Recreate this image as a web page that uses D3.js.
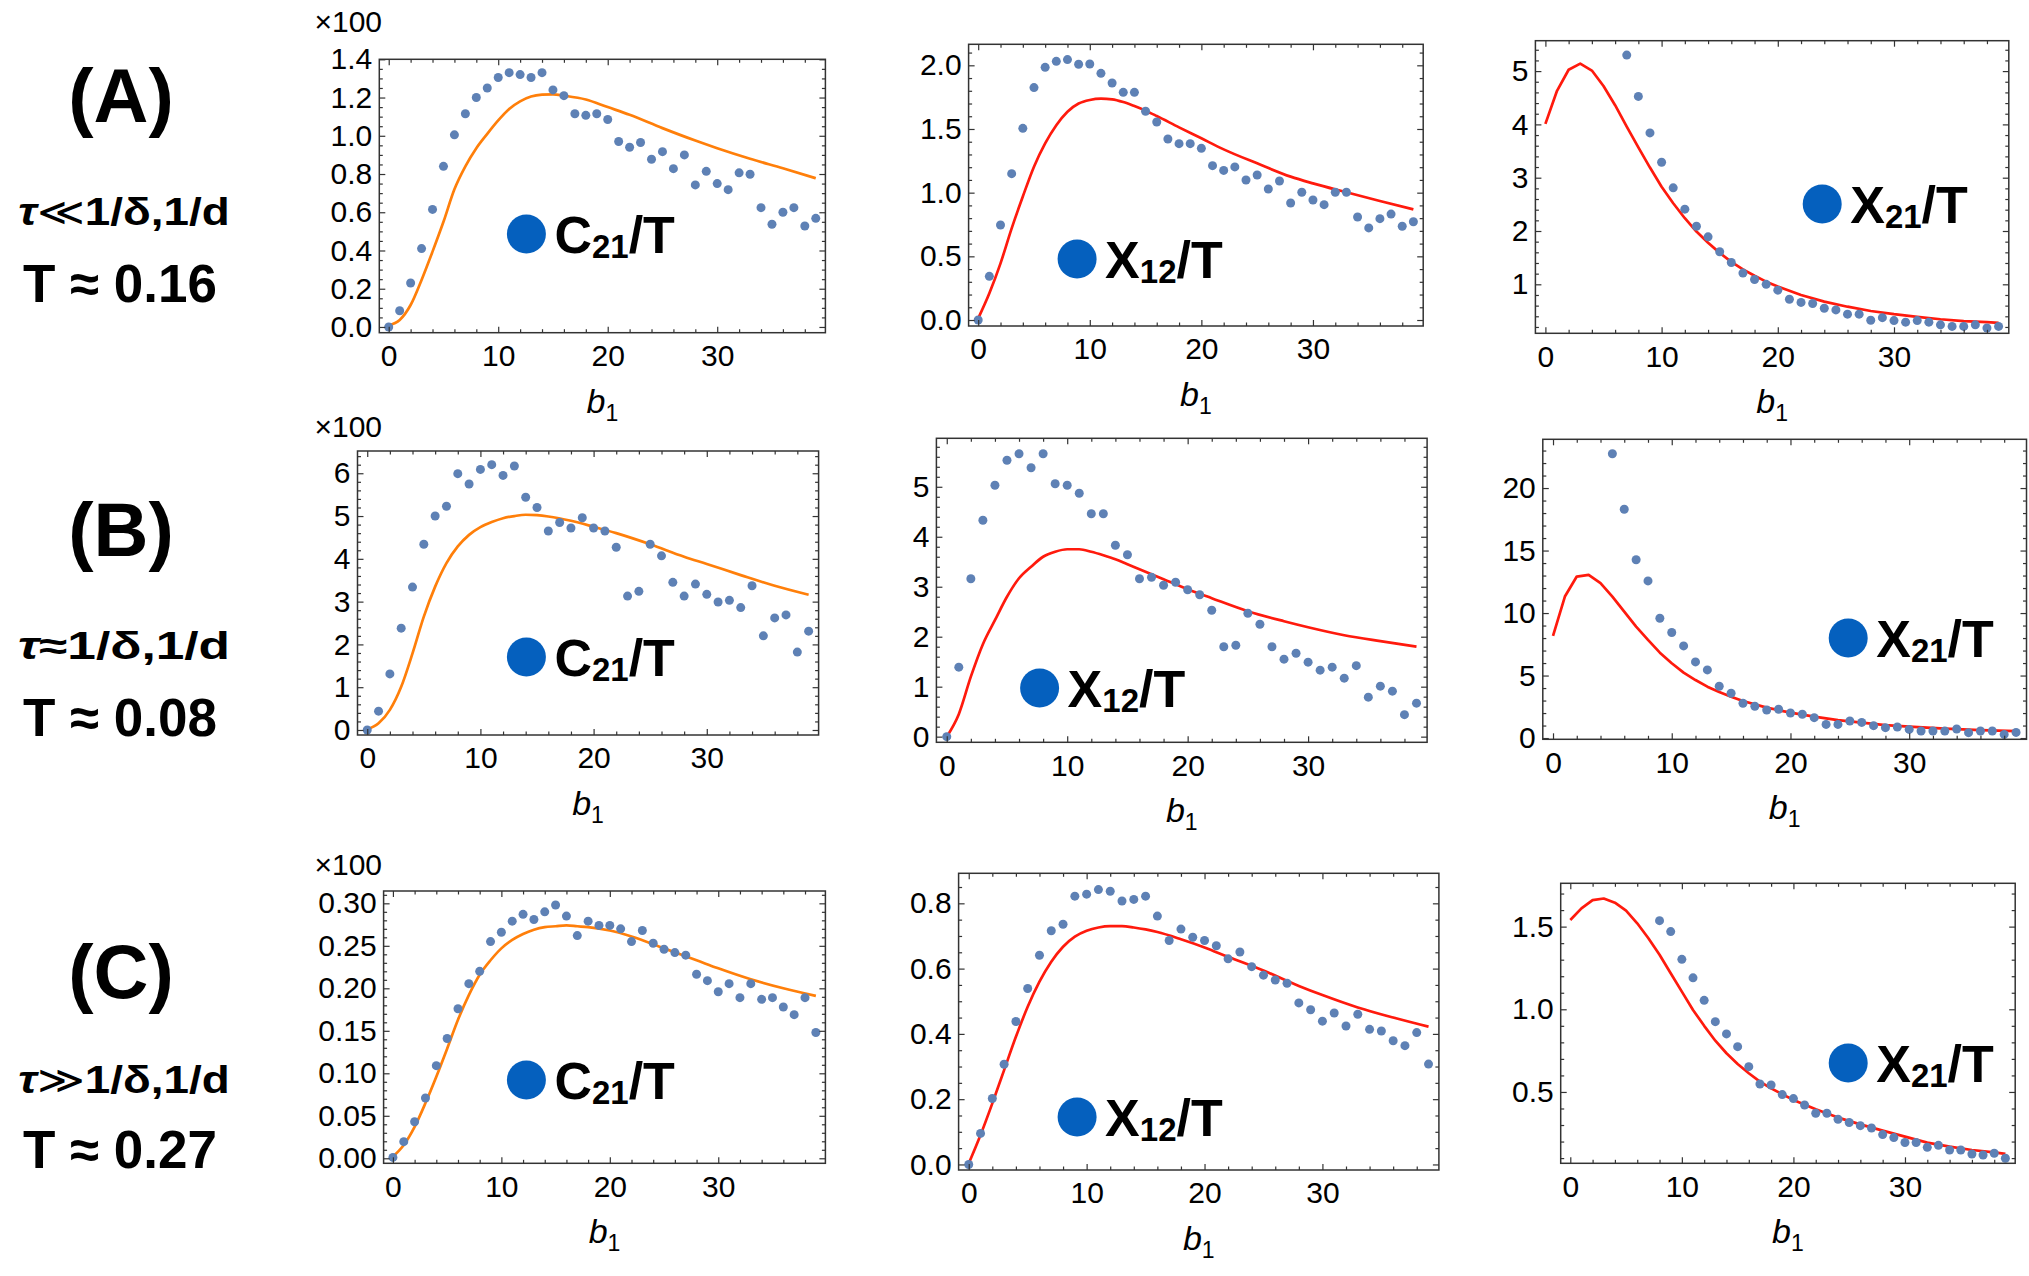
<!DOCTYPE html>
<html>
<head>
<meta charset="utf-8">
<script src="https://cdn.jsdelivr.net/npm/d3@7"></script>
<style>
  body { margin: 0; background: #fff; }
  text { font-family: "Liberation Sans", Arial, Helvetica, sans-serif; }
</style>
</head>
<body>
<script>
const WIDTH = 2029;
const HEIGHT = 1276;

// b1 runs 0..39 in every panel
const b1 = d3.range(0, 40);
const xTicks = [0, 10, 20, 30];

// simulated points (index = b1), null = outside the plot range
const ptsA1 = [0.0,0.085,0.23,0.41,0.615,0.84,1.005,1.115,1.20,1.25,1.305,1.33,1.32,1.305,1.33,1.24,1.21,1.115,1.107,1.115,1.085,0.97,0.94,0.965,0.877,0.917,0.828,0.90,0.743,0.814,0.75,0.718,0.806,0.799,0.624,0.537,0.60,0.624,0.528,0.568];
const ptsA2 = [0,0.343,0.746,1.149,1.505,1.825,1.984,2.031,2.045,2.008,2.01,1.937,1.861,1.788,1.788,1.639,1.555,1.421,1.385,1.385,1.348,1.212,1.175,1.202,1.099,1.139,1.029,1.092,0.919,1.003,0.942,0.906,1.003,1.003,0.809,0.723,0.796,0.832,0.736,0.772];
const ptsA3 = [null,null,null,null,null,null,null,5.30,4.525,3.84,3.29,2.81,2.41,2.09,1.89,1.61,1.41,1.21,1.09,1.0,0.89,0.72,0.66,0.64,0.55,0.52,0.44,0.44,0.325,0.375,0.32,0.29,0.32,0.29,0.24,0.21,0.21,0.24,0.18,0.21];
const ptsB1 = [0,0.44,1.31,2.38,3.34,4.34,5.0,5.23,5.99,5.75,6.09,6.20,5.95,6.17,5.44,5.20,4.65,4.85,4.72,4.96,4.72,4.65,4.27,3.13,3.24,4.34,4.07,3.45,3.13,3.41,3.17,2.99,3.03,2.86,3.37,2.20,2.62,2.69,1.82,2.31];
const ptsB2 = [0,1.39,3.16,4.33,5.03,5.53,5.66,5.38,5.66,5.06,5.03,4.87,4.46,4.46,3.83,3.64,3.16,3.19,3.03,3.09,2.94,2.84,2.53,1.80,1.83,2.47,2.25,1.80,1.55,1.67,1.49,1.33,1.39,1.17,1.42,0.79,1.01,0.91,0.44,0.67];
const ptsB3 = [null,null,null,null,null,22.74,18.3,14.26,12.57,9.58,8.44,7.37,6.09,5.45,4.14,3.58,2.78,2.54,2.24,2.30,2.0,1.9,1.63,1.09,1.09,1.36,1.25,0.99,0.83,0.88,0.69,0.56,0.56,0.56,0.72,0.43,0.56,0.56,0.29,0.45];
const ptsC1 = [0.001,0.0196,0.043,0.071,0.109,0.141,0.176,0.2055,0.220,0.255,0.266,0.279,0.287,0.281,0.290,0.298,0.285,0.262,0.279,0.274,0.274,0.270,0.255,0.268,0.253,0.246,0.242,0.239,0.2165,0.209,0.196,0.2055,0.189,0.2055,0.187,0.189,0.178,0.169,0.189,0.148];
const ptsC2 = [0,0.095,0.202,0.307,0.438,0.539,0.641,0.716,0.736,0.822,0.828,0.842,0.837,0.807,0.812,0.822,0.761,0.686,0.721,0.696,0.686,0.670,0.630,0.651,0.606,0.580,0.565,0.555,0.495,0.474,0.439,0.464,0.424,0.460,0.414,0.409,0.379,0.364,0.404,0.3075];
const ptsC3 = [null,null,null,null,null,null,null,null,1.536,1.47,1.302,1.19,1.054,0.925,0.851,0.774,0.653,0.548,0.542,0.484,0.46,0.421,0.371,0.371,0.335,0.315,0.296,0.282,0.242,0.224,0.194,0.194,0.165,0.177,0.149,0.149,0.125,0.119,0.129,0.099];

// theory curves, [b1, value]
const lineA1 = [[0,0.01],[1,0.037],[2,0.115],[3,0.246],[4,0.394],[5,0.55],[6,0.72],[7,0.84],[8,0.935],[9,1.01],[10,1.08],[11,1.14],[12,1.18],[13,1.205],[14,1.215],[15,1.217],[16,1.21],[18,1.19],[20,1.15],[22,1.11],[25,1.04],[28,0.975],[30,0.935],[33,0.88],[36,0.83],[39,0.778]];
const lineA2 = [[0,0.013],[1,0.21],[2,0.445],[3,0.72],[4,0.97],[5,1.204],[6,1.387],[7,1.53],[8,1.636],[9,1.70],[10,1.728],[11,1.738],[12,1.733],[13,1.712],[14,1.68],[15,1.644],[16,1.602],[18,1.513],[20,1.427],[22,1.34],[25,1.23],[28,1.126],[30,1.073],[33,1.003],[36,0.935],[39,0.869]];
const lineA3 = [[0,4.01],[1,4.63],[2,5.025],[3,5.14],[4,5.01],[5,4.72],[6,4.36],[7,3.96],[8,3.57],[9,3.19],[10,2.83],[11,2.52],[12,2.24],[13,1.99],[14,1.78],[15,1.59],[16,1.42],[17,1.28],[18,1.16],[19,1.05],[20,0.96],[22,0.80],[24,0.675],[26,0.58],[28,0.50],[30,0.44],[32,0.39],[34,0.345],[36,0.31],[38,0.29],[39,0.275]];
const lineB1 = [[0,0.015],[1,0.156],[2,0.47],[3,1.01],[4,1.79],[5,2.65],[6,3.35],[7,3.90],[8,4.29],[9,4.56],[10,4.74],[11,4.86],[12,4.95],[13,5.0],[14,5.03],[15,5.02],[16,4.99],[18,4.89],[20,4.75],[22,4.60],[25,4.34],[28,4.05],[30,3.88],[33,3.62],[36,3.37],[39,3.16]];
const lineB2 = [[0,0],[1,0.45],[2,1.2],[3,1.85],[4,2.33],[5,2.8],[6,3.17],[7,3.4],[8,3.6],[9,3.7],[10,3.75],[11,3.75],[12,3.7],[13,3.63],[14,3.55],[15,3.45],[16,3.35],[18,3.15],[20,2.95],[22,2.77],[25,2.51],[28,2.31],[30,2.19],[33,2.03],[36,1.91],[39,1.80]];
const lineB3 = [[0,8.17],[1,11.32],[2,12.92],[3,13.05],[4,12.39],[5,11.32],[6,10.12],[7,8.92],[8,7.85],[9,6.83],[10,5.98],[11,5.23],[12,4.64],[13,4.11],[14,3.68],[15,3.31],[16,2.96],[18,2.43],[20,2.03],[22,1.71],[24,1.44],[26,1.23],[28,1.04],[30,0.91],[33,0.75],[36,0.64],[39,0.56]];
const lineC1 = [[0,0.002],[1,0.0157],[2,0.037],[3,0.065],[4,0.096],[5,0.129],[6,0.163],[7,0.192],[8,0.216],[9,0.233],[10,0.247],[11,0.257],[12,0.264],[13,0.269],[14,0.272],[15,0.273],[16,0.274],[17,0.273],[18,0.272],[20,0.268],[22,0.261],[25,0.247],[28,0.233],[30,0.2235],[33,0.2106],[36,0.200],[39,0.191]];
const lineC2 = [[0,0.003],[1,0.09],[2,0.187],[3,0.289],[4,0.391],[5,0.483],[6,0.56],[7,0.621],[8,0.667],[9,0.698],[10,0.716],[11,0.726],[12,0.73],[13,0.73],[14,0.726],[15,0.72],[16,0.712],[18,0.69],[20,0.665],[22,0.636],[25,0.594],[28,0.547],[30,0.519],[33,0.481],[36,0.450],[39,0.422]];
const lineC3 = [[0,1.54],[1,1.61],[2,1.66],[3,1.67],[4,1.645],[5,1.597],[6,1.52],[7,1.43],[8,1.33],[9,1.218],[10,1.107],[11,0.996],[12,0.90],[13,0.81],[14,0.734],[15,0.669],[16,0.613],[17,0.5625],[18,0.522],[19,0.486],[20,0.452],[22,0.395],[24,0.345],[26,0.304],[28,0.266],[30,0.23],[32,0.1935],[34,0.169],[36,0.149],[38,0.135],[39,0.125]];

// y tick labels
const yTicksA1 = [0, 0.2, 0.4, 0.6, 0.8, 1.0, 1.2, 1.4];
const yTicksA2 = [0, 0.5, 1.0, 1.5, 2.0];
const yTicksA3 = [1, 2, 3, 4, 5];
const yTicksB1 = [0, 1, 2, 3, 4, 5, 6];
const yTicksB2 = [0, 1, 2, 3, 4, 5];
const yTicksB3 = [0, 5, 10, 15, 20];
const yTicksC1 = [0, 0.05, 0.10, 0.15, 0.20, 0.25, 0.30];
const yTicksC2 = [0, 0.2, 0.4, 0.6, 0.8];
const yTicksC3 = [0.5, 1.0, 1.5];

const rowLabels = ['(A)', '(B)', '(C)'];
const relations = ['\u226A', '\u2248', '\u226B'];
const temps = ['0.16', '0.08', '0.27'];

const DOT = '#5e81b5';
const ORANGE = '#ff7f0a';
const RED = '#ff1a0d';
const LEGEND_BLUE = '#0560be';

const svg = d3.select('body').append('svg')
    .attr('width', WIDTH)
    .attr('height', HEIGHT);

// box = [left, top, right, bottom] in pixels
const panels = [
  {id: 'A1', box: [379.3, 59.3, 825.4, 332.7], yDom: [-0.03, 1.4],  ticks: yTicksA1, minor: 0.05, fmt: '.1f', pts: ptsA1, line: lineA1, color: ORANGE, smooth: true,  name: 'C', sub: '21', leg: [526.4, 234],   note: 32},
  {id: 'A2', box: [968.6, 44.3, 1423.2, 326],  yDom: [-0.047, 2.165], ticks: yTicksA2, minor: 0.1, fmt: '.1f', pts: ptsA2, line: lineA2, color: RED, smooth: true,  name: 'X', sub: '12', leg: [1077.1, 259]},
  {id: 'A3', box: [1535.4, 40.7, 2008.8, 333.3], yDom: [0.081, 5.57], ticks: yTicksA3, minor: 0.2, fmt: 'd',  pts: ptsA3, line: lineA3, color: RED, smooth: false, name: 'X', sub: '21', leg: [1822.2, 204]},
  {id: 'B1', box: [357.5, 451, 818.6, 735],  yDom: [-0.117, 6.52], ticks: yTicksB1, minor: 0.2, fmt: 'd',  pts: ptsB1, line: lineB1, color: ORANGE, smooth: true,  name: 'C', sub: '21', leg: [526.4, 657],   note: 437},
  {id: 'B2', box: [936.4, 438.3, 1427.1, 742.3], yDom: [-0.113, 5.97], ticks: yTicksB2, minor: 0.2, fmt: 'd', pts: ptsB2, line: lineB2, color: RED, smooth: true, name: 'X', sub: '12', leg: [1039.6, 688]},
  {id: 'B3', box: [1542.8, 439.3, 2026.5, 739.3], yDom: [-0.1, 23.9], ticks: yTicksB3, minor: 1, fmt: 'd', pts: ptsB3, line: lineB3, color: RED, smooth: false, name: 'X', sub: '21', leg: [1848.2, 638]},
  {id: 'C1', box: [383.6, 891, 825.4, 1163.3], yDom: [-0.0059, 0.3145], ticks: yTicksC1, minor: 0.01, fmt: '.2f', pts: ptsC1, line: lineC1, color: ORANGE, smooth: true, name: 'C', sub: '21', leg: [526.4, 1080], note: 875},
  {id: 'C2', box: [958.6, 873.3, 1438.9, 1170], yDom: [-0.017, 0.892], ticks: yTicksC2, minor: 0.05, fmt: '.1f', pts: ptsC2, line: lineC2, color: RED, smooth: true, name: 'X', sub: '12', leg: [1077.1, 1117]},
  {id: 'C3', box: [1560.7, 883.3, 2015.2, 1163.3], yDom: [0.0685, 1.762], ticks: yTicksC3, minor: 0.1, fmt: '.1f', pts: ptsC3, line: lineC3, color: RED, smooth: false, name: 'X', sub: '21', leg: [1848.2, 1063]}
];

const xDomain = [-0.86, 39.88];
const MAJOR = 6, MINORLEN = 3.5;
const TICKFONT = 30;

function minorValues(dom, step, majors) {
  let vals = [];
  for (let i = Math.ceil(dom[0] / step - 1e-9); i * step <= dom[1] + 1e-9; i++) {
    let v = +(i * step).toFixed(6);
    if (!majors.some(m => Math.abs(m - v) < 1e-6)) vals.push(v);
  }
  return vals;
}

function cleanAxis(g) {
  g.select('.domain').remove();
  g.selectAll('.tick line').attr('stroke', '#333').attr('stroke-width', 1.2);
}

panels.forEach(p => {
  const [l, t, r, b] = p.box;
  const x = d3.scaleLinear().domain(xDomain).range([l, r]);
  const y = d3.scaleLinear().domain(p.yDom).range([b, t]);
  const g = svg.append('g');

  g.append('clipPath').attr('id', 'clip' + p.id)
    .append('rect').attr('x', l).attr('y', t).attr('width', r - l).attr('height', b - t);

  // theory curve
  g.append('path')
    .datum(p.line)
    .attr('clip-path', 'url(#clip' + p.id + ')')
    .attr('fill', 'none')
    .attr('stroke', p.color)
    .attr('stroke-width', 2.7)
    .attr('stroke-linejoin', 'round')
    .attr('d', d3.line()
        .x(d => x(d[0]))
        .y(d => y(d[1]))
        .curve(p.smooth ? d3.curveMonotoneX : d3.curveLinear));

  // points
  g.append('g')
    .attr('clip-path', 'url(#clip' + p.id + ')')
    .selectAll('circle')
    .data(b1.map((bv, i) => [bv, p.pts[i]]).filter(d => d[1] != null))
    .join('circle')
      .attr('cx', d => x(d[0]))
      .attr('cy', d => y(d[1]))
      .attr('r', 4.5)
      .style('fill', DOT);

  // frame
  g.append('rect')
    .attr('x', l).attr('y', t).attr('width', r - l).attr('height', b - t)
    .attr('fill', 'none').attr('stroke', '#333').attr('stroke-width', 1.5);

  const xMinor = minorValues(xDomain, 2, xTicks);
  const yMinor = minorValues(p.yDom, p.minor, p.ticks);

  // bottom: labelled major ticks
  g.append('g').attr('transform', `translate(0,${b})`)
    .call(d3.axisBottom(x).tickValues(xTicks).tickSize(-MAJOR).tickPadding(12).tickFormat(d3.format('d')))
    .call(cleanAxis)
    .call(a => a.selectAll('text').attr('font-size', TICKFONT).attr('fill', '#000')
        .attr('font-family', '"Liberation Sans", Arial, sans-serif'));
  g.append('g').attr('transform', `translate(0,${b})`)
    .call(d3.axisBottom(x).tickValues(xMinor).tickSize(-MINORLEN).tickFormat(''))
    .call(cleanAxis);
  // top
  g.append('g').attr('transform', `translate(0,${t})`)
    .call(d3.axisTop(x).tickValues(xTicks).tickSize(-MAJOR).tickFormat(''))
    .call(cleanAxis);
  g.append('g').attr('transform', `translate(0,${t})`)
    .call(d3.axisTop(x).tickValues(xMinor).tickSize(-MINORLEN).tickFormat(''))
    .call(cleanAxis);
  // left: labelled
  g.append('g').attr('transform', `translate(${l},0)`)
    .call(d3.axisLeft(y).tickValues(p.ticks).tickSize(-MAJOR).tickPadding(7).tickFormat(d3.format(p.fmt)))
    .call(cleanAxis)
    .call(a => a.selectAll('text').attr('font-size', TICKFONT).attr('fill', '#000')
        .attr('font-family', '"Liberation Sans", Arial, sans-serif'));
  g.append('g').attr('transform', `translate(${l},0)`)
    .call(d3.axisLeft(y).tickValues(yMinor).tickSize(-MINORLEN).tickFormat(''))
    .call(cleanAxis);
  // right
  g.append('g').attr('transform', `translate(${r},0)`)
    .call(d3.axisRight(y).tickValues(p.ticks).tickSize(-MAJOR).tickFormat(''))
    .call(cleanAxis);
  g.append('g').attr('transform', `translate(${r},0)`)
    .call(d3.axisRight(y).tickValues(yMinor).tickSize(-MINORLEN).tickFormat(''))
    .call(cleanAxis);

  // x label b1
  const xl = g.append('text')
    .attr('x', (l + r) / 2).attr('y', b + 80)
    .attr('text-anchor', 'middle')
    .attr('font-size', 34);
  xl.append('tspan').attr('font-style', 'italic').text('b');
  xl.append('tspan').attr('font-size', 23).attr('dy', 8).text('1');

  // x100 scale note
  if (p.note) {
    g.append('text')
      .attr('x', 382).attr('y', p.note)
      .attr('text-anchor', 'end')
      .attr('font-size', 30)
      .text('\u00d7100');
  }

  // legend
  g.append('circle')
    .attr('cx', p.leg[0]).attr('cy', p.leg[1]).attr('r', 19.5)
    .style('fill', LEGEND_BLUE);
  const lt = g.append('text')
    .attr('x', p.leg[0] + 28).attr('y', p.leg[1] + 19)
    .attr('font-size', 52).attr('font-weight', 'bold');
  lt.append('tspan').text(p.name);
  lt.append('tspan').attr('font-size', 33).attr('dy', 5).text(p.sub);
  lt.append('tspan').attr('dy', -5).text('/T');
});

// row labels on the left
const rowBase = [122, 556, 998];
const relBase = [225, 659, 1093];
const tBase = [302, 736, 1168];

rowLabels.forEach((lab, i) => {
  svg.append('text')
    .attr('x', 121).attr('y', rowBase[i])
    .attr('text-anchor', 'middle')
    .attr('font-size', 76).attr('font-weight', 'bold')
    .text(lab);

  const rg = svg.append('g');
  const rt = rg.append('text')
    .attr('text-anchor', 'middle')
    .attr('font-size', 38).attr('font-weight', 'bold');
  rt.append('tspan').attr('font-style', 'italic').text('\u03c4');
  rt.append('tspan').attr('font-weight', i === 1 ? 'bold' : 'normal').text(relations[i]);
  rt.append('tspan').text('1/\u03b4,1/d');
  const w = rt.node().getComputedTextLength();
  rg.attr('transform', `translate(124,${relBase[i]}) scale(${212 / w},1)`);

  svg.append('text')
    .attr('x', 120).attr('y', tBase[i])
    .attr('text-anchor', 'middle')
    .attr('font-size', 53).attr('font-weight', 'bold')
    .text('T \u2248 ' + temps[i]);
});
</script>
</body>
</html>
